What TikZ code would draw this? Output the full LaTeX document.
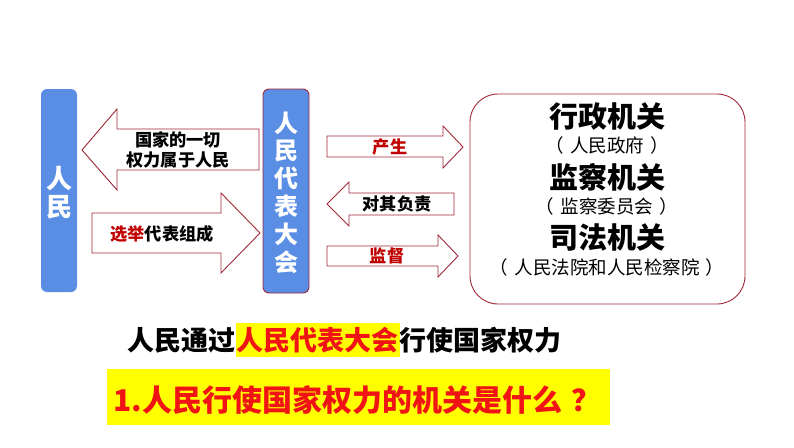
\documentclass[tikz,border=0pt]{standalone}
\usepackage{fontspec}
\newfontfamily\cjk{Noto Sans CJK SC}
\definecolor{barblue}{RGB}{90,142,228}
\definecolor{edgered}{RGB}{160,40,55}
\definecolor{darkred}{RGB}{192,0,0}
\definecolor{brightred}{RGB}{240,20,20}
\definecolor{hiyellow}{RGB}{255,255,0}
\begin{document}
\begin{tikzpicture}[x=1pt,y=-1pt,
  bar/.style={rounded corners=6pt, fill=barblue, inner sep=0pt},
  bartext/.style={text=white, font=\cjk\bfseries, align=center, inner sep=0pt},
  blockarrow/.style={draw=edgered, line width=0.9pt, fill=white, line join=miter},
  arrowlabel/.style={font=\cjk\bfseries\fontsize{17.2}{18}\selectfont, inner sep=0pt},
  organ/.style={font=\cjk\bfseries\fontsize{29}{30}\selectfont, inner sep=0pt},
  organsub/.style={font=\cjk\fontsize{18.5}{20}\selectfont, inner sep=0pt},
  bigline/.style={font=\cjk\bfseries\fontsize{27}{28}\selectfont, inner sep=0pt}
]
\useasboundingbox (0,0) rectangle (794,447);
\fill[white] (0,0) rectangle (794,447);

% bars
\node[bar, minimum width=36pt, minimum height=203pt] (people) at (59,190.5) {};
\node[bartext, font=\cjk\bfseries\fontsize{26}{28}\selectfont] (peopletext) at (59,193) {人\\民};
\node[bar, draw=edgered, line width=0.9pt, minimum width=46pt, minimum height=204pt] (npc) at (286,191) {};
\node[bartext, font=\cjk\bfseries\fontsize{24}{27.8}\selectfont] (npctext) at (286,192.5) {人\\民\\代\\表\\大\\会};

% arrows between people and NPC
\draw[blockarrow] (82,150) -- (117,109) -- (117,129) -- (259,129) -- (259,170) -- (117,170) -- (117,190) -- cycle;
\node[arrowlabel, align=center, font=\cjk\bfseries\fontsize{17.2}{20.5}\selectfont] (lbl1) at (178,150) {国家的一切\\权力属于人民};
\draw[blockarrow] (92,213) -- (221,213) -- (221,193) -- (260,233) -- (221,273) -- (221,253) -- (92,253) -- cycle;
\node[arrowlabel] (lbl2) at (162,234) {\textcolor{darkred}{选举}代表组成};

% arrows between NPC and organs
\draw[blockarrow] (327,136) -- (443,136) -- (443,126) -- (463,147) -- (443,168) -- (443,157) -- (327,157) -- cycle;
\node[arrowlabel, text=darkred] (lbl3) at (390,147) {产生};
\draw[blockarrow] (327,204) -- (349,182) -- (349,193) -- (454,193) -- (454,215) -- (349,215) -- (349,226) -- cycle;
\node[arrowlabel] (lbl4) at (397,204) {对其负责};
\draw[blockarrow] (327,246) -- (438,246) -- (438,235) -- (458,256) -- (438,277) -- (438,266) -- (327,266) -- cycle;
\node[arrowlabel, text=darkred] (lbl5) at (387,256) {监督};

% organs box
\draw[draw=edgered, line width=0.9pt, rounded corners=28pt] (470,94) rectangle (745,304);
\node[organ] (exec) at (607,117) {行政机关};
\node[organsub] (execsub) at (607,145) {（\hspace{0.35em}人民政府\hspace{0.35em}）};
\node[organ] (superv) at (607,177) {监察机关};
\node[organsub] (supervsub) at (607,206) {（\hspace{0.35em}监察委员会\hspace{0.35em}）};
\node[organ] (judic) at (607,237) {司法机关};
\node[organsub] (judicsub) at (607,267) {（\hspace{0.35em}人民法院和人民检察院\hspace{0.35em}）};

% bottom line
\node[bigline, fill=hiyellow, text=brightred, minimum height=34pt, inner xsep=1pt] (hl) at (317.5,340) {人民代表大会};
\node[bigline, anchor=east] (pre) at (hl.west) {人民通过};
\node[bigline, anchor=west] (post) at (hl.east) {行使国家权力};

% question box
\node[fill=hiyellow, minimum width=503pt, minimum height=56pt, inner sep=0pt] (qbox) at (358.5,397) {};
\node[font=\cjk\bfseries\fontsize{30}{32}\selectfont, text=brightred, inner sep=0pt, anchor=west] (q) at (113,400) {1.人民行使国家权力的机关是什么\hspace{0.3em}？};
\end{tikzpicture}
\end{document}
